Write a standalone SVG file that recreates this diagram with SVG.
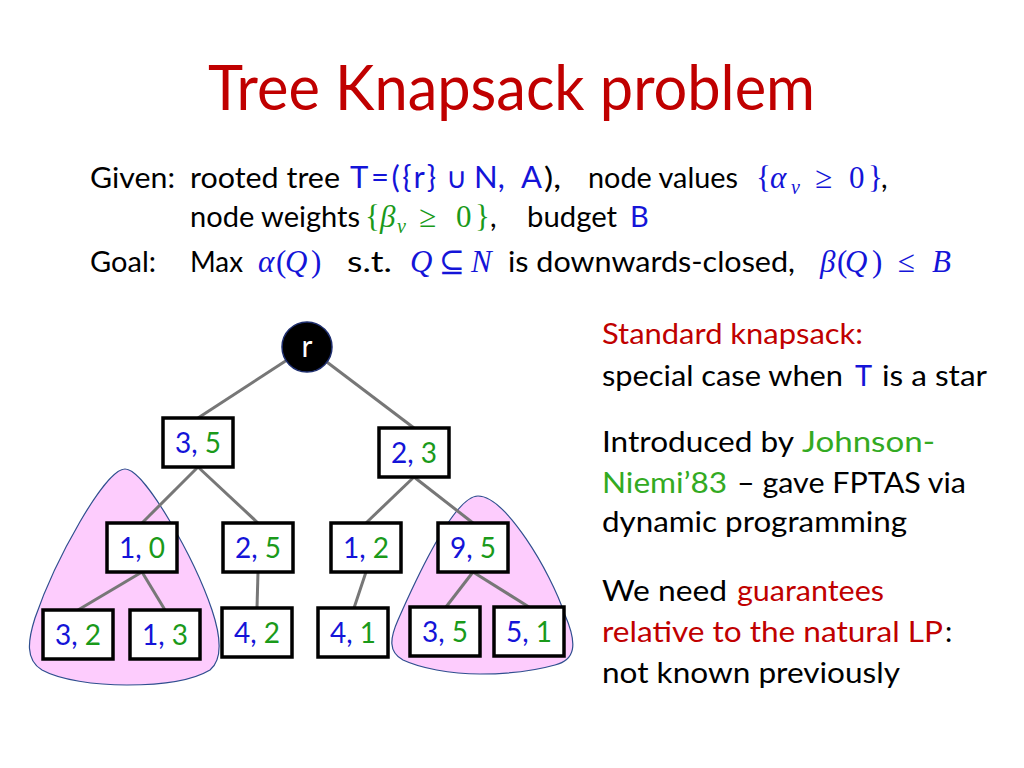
<svg xmlns="http://www.w3.org/2000/svg" width="1024" height="768" viewBox="0 0 1024 768">
<style>
text{font-family:Lato,"Open Sans","Liberation Sans",sans-serif;}
.t{font-size:29px;fill:#000;}
.title{font-size:61px;fill:#c00000;}
.m{font-family:"Liberation Serif","DejaVu Serif",serif;font-size:31px;}
.mi{font-style:italic;}
.sub{font-size:20px;font-style:italic;}
.blue{fill:#1414d8;}
.green{fill:#1a9a1a;}
.lgreen{fill:#33aa22;}
.red{fill:#c00000;}
.box{fill:#fff;stroke:#000;stroke-width:3.5;}
.lbl{font-size:28px;text-anchor:middle;}
.edge{stroke:#777;stroke-width:3;fill:none;}
.blob{fill:#fdccfd;stroke:#2f4f8f;stroke-width:1.2;}
</style>
<rect width="1024" height="768" fill="#fff"/>
<text class="title" x="208" y="110" textLength="607" lengthAdjust="spacingAndGlyphs">Tree Knapsack problem</text>

<g id="problem-text">
<text class="t" x="90" y="188" textLength="85" lengthAdjust="spacingAndGlyphs">Given:</text>
<text class="t" x="190" y="188" textLength="150" lengthAdjust="spacingAndGlyphs">rooted tree</text>
<text class="t blue" x="350" y="188" textLength="86" lengthAdjust="spacing" style="font-size:31px">T=({r}</text>
<text class="t blue" x="446" y="188">∪</text>
<text class="t blue" x="474" y="188" style="font-size:31px">N,</text>
<text class="t blue" x="521" y="188" style="font-size:31px">A</text>
<text class="t" x="544" y="188" textLength="17" lengthAdjust="spacingAndGlyphs">),</text>
<text class="t" x="588" y="188" textLength="150" lengthAdjust="spacingAndGlyphs">node values</text>
<text class="m blue" y="188"><tspan x="756">{</tspan><tspan class="mi" x="770">α</tspan><tspan class="sub" x="791" dy="6">v</tspan><tspan x="815" dy="-6">≥</tspan><tspan x="849">0</tspan><tspan x="868">}</tspan></text>
<text class="t" x="881" y="188">,</text>

<text class="t" x="190" y="227" textLength="170" lengthAdjust="spacingAndGlyphs">node weights</text>
<text class="m green" y="227"><tspan x="365">{</tspan><tspan class="mi" x="380">β</tspan><tspan class="sub" x="397" dy="6">v</tspan><tspan x="419" dy="-6">≥</tspan><tspan x="456">0</tspan><tspan x="475">}</tspan></text>
<text class="t" x="490" y="227">,</text>
<text class="t" x="527" y="227" textLength="90" lengthAdjust="spacingAndGlyphs">budget</text>
<text class="t blue" x="630" y="227">B</text>

<text class="t" x="90" y="272" textLength="66" lengthAdjust="spacingAndGlyphs">Goal:</text>
<text class="t" x="190" y="272" textLength="53" lengthAdjust="spacingAndGlyphs">Max</text>
<text class="m blue" y="272"><tspan class="mi" x="258">α</tspan><tspan x="276">(</tspan><tspan class="mi" x="285">Q</tspan><tspan x="311">)</tspan></text>
<text class="t" x="347" y="272" textLength="45" lengthAdjust="spacingAndGlyphs">s.t.</text>
<text class="m blue" y="272"><tspan class="mi" x="410">Q</tspan><tspan x="439">⊆</tspan><tspan class="mi" x="471">N</tspan></text>
<text class="t" x="508" y="272" textLength="287" lengthAdjust="spacingAndGlyphs">is downwards-closed,</text>
<text class="m blue" y="272"><tspan class="mi" x="820">β</tspan><tspan x="837">(</tspan><tspan class="mi" x="845">Q</tspan><tspan x="872">)</tspan><tspan x="898">≤</tspan><tspan class="mi" x="932">B</tspan></text>
</g>

<g id="side-text">
<text class="t red" x="602" y="344" textLength="261" lengthAdjust="spacingAndGlyphs">Standard knapsack:</text>
<text class="t" x="602" y="386" textLength="241" lengthAdjust="spacingAndGlyphs">special case when</text>
<text class="t blue" x="855" y="386">T</text>
<text class="t" x="882" y="386" textLength="105" lengthAdjust="spacingAndGlyphs">is a star</text>
<text class="t" x="602" y="452" textLength="192" lengthAdjust="spacingAndGlyphs">Introduced by</text>
<text class="t lgreen" x="802" y="452" textLength="133" lengthAdjust="spacingAndGlyphs">Johnson-</text>
<text class="t lgreen" x="602" y="493" textLength="125" lengthAdjust="spacingAndGlyphs">Niemi’83</text>
<text class="t" x="737" y="493" textLength="229" lengthAdjust="spacingAndGlyphs">– gave FPTAS via</text>
<text class="t" x="602" y="532" textLength="305" lengthAdjust="spacingAndGlyphs">dynamic programming</text>
<text class="t" x="602" y="601" textLength="125" lengthAdjust="spacingAndGlyphs">We need</text>
<text class="t red" x="737" y="601" textLength="147" lengthAdjust="spacingAndGlyphs">guarantees</text>
<text class="t red" x="602" y="642" textLength="341" lengthAdjust="spacingAndGlyphs">relative to the natural LP</text>
<text class="t" x="945" y="642">:</text>
<text class="t" x="602" y="683" textLength="298" lengthAdjust="spacingAndGlyphs">not known previously</text>
</g>

<g id="blobs">
<path class="blob" d="M125,469 C145,469 195,560 212,610 C222,640 222,660 210,670 C190,682 160,685 127,685 C95,685 60,680 42,670 C25,660 28,640 35,618 C55,560 105,469 125,469 Z"/>
<path class="blob" d="M478,496 C505,496 550,570 565,615 C578,645 575,660 555,665 C530,672 505,674 480,674 C450,674 420,668 403,660 C388,652 390,638 398,620 C420,570 455,496 478,496 Z"/>
</g>

<g id="connectors">
<line class="edge" x1="307" y1="347" x2="198" y2="418"/>
<line class="edge" x1="307" y1="347" x2="414" y2="428"/>
<line class="edge" x1="198" y1="467" x2="142" y2="523"/>
<line class="edge" x1="198" y1="467" x2="258" y2="523"/>
<line class="edge" x1="414" y1="477" x2="366" y2="523"/>
<line class="edge" x1="414" y1="477" x2="473" y2="523"/>
<line class="edge" x1="142" y1="572" x2="78" y2="610"/>
<line class="edge" x1="142" y1="572" x2="165" y2="610"/>
<line class="edge" x1="258" y1="572" x2="257" y2="608"/>
<line class="edge" x1="366" y1="572" x2="354" y2="608"/>
<line class="edge" x1="473" y1="572" x2="446" y2="607"/>
<line class="edge" x1="473" y1="572" x2="529" y2="607"/>
</g>

<g id="node-r">
<circle cx="307" cy="347" r="25" fill="#000" stroke="#1f2f6f" stroke-width="1.5"/>
<text x="307" y="357" text-anchor="middle" style="font-size:30px;fill:#fff">r</text>
</g>
<g id="node-3-5"><rect class="box" x="163" y="418" width="70" height="49"/><text class="lbl" x="198" y="453"><tspan class="blue">3, </tspan><tspan class="green">5</tspan></text></g>
<g id="node-2-3"><rect class="box" x="379" y="428" width="70" height="49"/><text class="lbl" x="414" y="463"><tspan class="blue">2, </tspan><tspan class="green">3</tspan></text></g>
<g id="node-1-0"><rect class="box" x="107" y="523" width="70" height="49"/><text class="lbl" x="142" y="558"><tspan class="blue">1, </tspan><tspan class="green">0</tspan></text></g>
<g id="node-2-5"><rect class="box" x="223" y="523" width="70" height="49"/><text class="lbl" x="258" y="558"><tspan class="blue">2, </tspan><tspan class="green">5</tspan></text></g>
<g id="node-1-2"><rect class="box" x="331" y="523" width="70" height="49"/><text class="lbl" x="366" y="558"><tspan class="blue">1, </tspan><tspan class="green">2</tspan></text></g>
<g id="node-9-5"><rect class="box" x="438" y="523" width="70" height="49"/><text class="lbl" x="473" y="558"><tspan class="blue">9, </tspan><tspan class="green">5</tspan></text></g>
<g id="node-3-2"><rect class="box" x="43" y="610" width="70" height="49"/><text class="lbl" x="78" y="645"><tspan class="blue">3, </tspan><tspan class="green">2</tspan></text></g>
<g id="node-1-3"><rect class="box" x="130" y="610" width="70" height="49"/><text class="lbl" x="165" y="645"><tspan class="blue">1, </tspan><tspan class="green">3</tspan></text></g>
<g id="node-4-2"><rect class="box" x="222" y="608" width="70" height="49"/><text class="lbl" x="257" y="643"><tspan class="blue">4, </tspan><tspan class="green">2</tspan></text></g>
<g id="node-4-1"><rect class="box" x="318" y="608" width="70" height="49"/><text class="lbl" x="353" y="643"><tspan class="blue">4, </tspan><tspan class="green">1</tspan></text></g>
<g id="node-3-5b"><rect class="box" x="410" y="607" width="70" height="49"/><text class="lbl" x="445" y="642"><tspan class="blue">3, </tspan><tspan class="green">5</tspan></text></g>
<g id="node-5-1"><rect class="box" x="494" y="607" width="70" height="49"/><text class="lbl" x="529" y="642"><tspan class="blue">5, </tspan><tspan class="green">1</tspan></text></g>
</svg>
